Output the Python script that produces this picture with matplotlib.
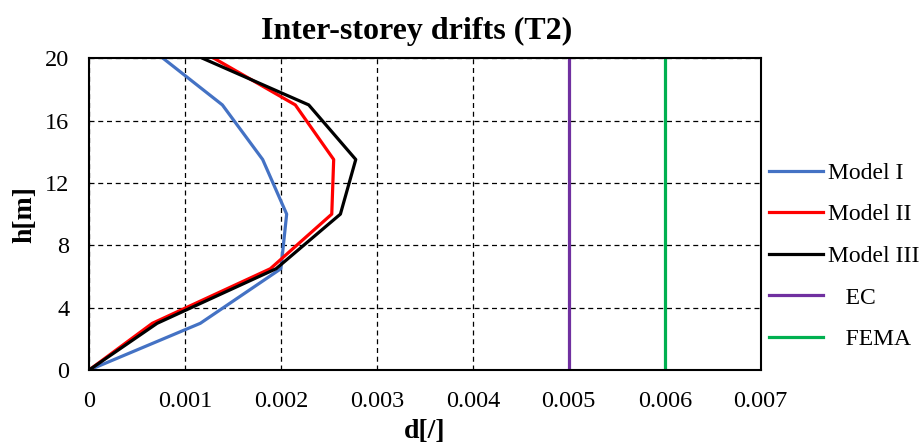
import matplotlib
matplotlib.use("Agg")
import matplotlib.pyplot as plt
from matplotlib.ticker import MultipleLocator, FormatStrFormatter

plt.rcParams['font.family'] = ['Liberation Serif', 'DejaVu Serif']

# storey heights [m]
h = [0, 3, 6.5, 10, 13.5, 17, 20]
# inter-storey drifts [-]
model_1 = [0, 0.00116, 0.00200, 0.00206, 0.00181, 0.00139, 0.00077]
model_2 = [0, 0.00066, 0.00189, 0.00253, 0.00255, 0.00215, 0.00130]
model_3 = [0, 0.00071, 0.00195, 0.00262, 0.00278, 0.00229, 0.00118]
# limits
ec_limit = 0.005
fema_limit = 0.006

fig = plt.figure(figsize=(9.21, 4.47), dpi=100)
ax = fig.add_axes([0.0966, 0.172, 0.7294, 0.698])

ax.plot(model_1, h, color="#4472C4", lw=2.3, label="Model I")
ax.plot(model_2, h, color="#FF0000", lw=2.3, label="Model II")
ax.plot(model_3, h, color="black", lw=2.3, label="Model III")
ax.plot([ec_limit, ec_limit], [0, 20], color="#7030A0", lw=2.3, label="   EC")
ax.plot([fema_limit, fema_limit], [0, 20], color="#00B050", lw=2.3, label="   FEMA")

ax.set_xlim(0, 0.007)
ax.set_ylim(0, 20)
ax.xaxis.set_major_locator(MultipleLocator(0.001))
ax.yaxis.set_major_locator(MultipleLocator(4))
ax.xaxis.set_major_formatter(FormatStrFormatter('%g'))
ax.grid(True, color="black", ls=(0, (4, 3)), lw=0.9)
ax.tick_params(axis="x", labelsize=17.5, length=0, pad=15)
ax.tick_params(axis="y", labelsize=17.5, length=0, pad=14)
for s in ax.spines.values():
    s.set_linewidth(1.5)

ax.set_title("Inter-storey drifts (T2)", fontsize=23, fontweight="bold", pad=14, x=0.488)
ax.set_xlabel("d[/]", fontsize=20, fontweight="bold", labelpad=5)
ax.set_ylabel("h[m]", fontsize=20, fontweight="bold", labelpad=6)

ax.legend(loc="center left", bbox_to_anchor=(1.0, 0.365), frameon=False,
          fontsize=17, handlelength=2.3, handletextpad=0.2, labelspacing=0.85,
          borderaxespad=0, borderpad=0.35)

fig.savefig("out.png", dpi=100)
